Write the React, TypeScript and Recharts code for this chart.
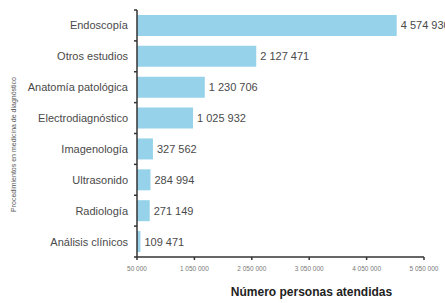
import { Bar, BarChart, LabelList, XAxis, YAxis } from 'recharts';

const categories = [
  'Endoscopía',
  'Otros estudios',
  'Anatomía patológica',
  'Electrodiagnóstico',
  'Imagenología',
  'Ultrasonido',
  'Radiología',
  'Análisis clínicos',
];
const personas = [4574930, 2127471, 1230706, 1025932, 327562, 284994, 271149, 109471];
const xTicks = [50000, 1050000, 2050000, 3050000, 4050000, 5050000];

const data = categories.map((name, i) => ({ name, value: personas[i] }));

const fmt = (n: number) => String(n).replace(/\B(?=(\d{3})+(?!\d))/g, ' ');

const FONT = '"Liberation Sans", Arial, sans-serif';
const W = 445;
const H = 303;
const MARGIN = { top: 10, right: 21, bottom: 16, left: 0 };
const AXIS_X = 137;
const X_AXIS_H = 30;
// half of one category band, for the boundary tick marks
const HALF_BAND = (H - MARGIN.top - MARGIN.bottom - X_AXIS_H) / categories.length / 2;

function CategoryTick(props: any) {
  const { y, payload, index } = props;
  const last = index === categories.length - 1;
  return (
    <g>
      <text x={AXIS_X - 9} y={y} dy={4} textAnchor="end" fontSize={11} fill="#4a4a4a" fontFamily={FONT}>
        {payload.value}
      </text>
      <line x1={AXIS_X - 3} x2={AXIS_X} y1={y - HALF_BAND} y2={y - HALF_BAND} stroke="#333" strokeWidth={1.5} />
      {last && (
        <line x1={AXIS_X - 3} x2={AXIS_X} y1={y + HALF_BAND} y2={y + HALF_BAND} stroke="#333" strokeWidth={1.5} />
      )}
    </g>
  );
}

function ValueLabel(props: any) {
  const { x, y, width, height, value } = props;
  return (
    <text x={x + width + 4} y={y + height / 2} dy={4} fontSize={11} fill="#4a4a4a" fontFamily={FONT}>
      {fmt(Number(value))}
    </text>
  );
}

function XTick(props: any) {
  const { x, y, payload } = props;
  return (
    <text x={x} y={y + 9} textAnchor="middle" fontSize={6.5} fill="#777" fontFamily={FONT}>
      {fmt(payload.value)}
    </text>
  );
}

export default function App() {
  return (
    <div style={{ position: 'absolute', left: 0, top: 0, background: '#fff' }}>
      <BarChart width={W} height={H} data={data} layout="vertical" margin={MARGIN} barCategoryGap="16%">
        <XAxis
          type="number"
          domain={[50000, 5050000]}
          ticks={xTicks}
          interval={0}
          allowDataOverflow
          height={X_AXIS_H}
          tick={<XTick />}
          tickSize={3}
          tickLine={{ stroke: '#333', strokeWidth: 1.5 }}
          axisLine={{ stroke: '#333', strokeWidth: 1.5 }}
          label={({ viewBox }: any) => (
            <text
              x={viewBox.x + viewBox.width / 2 + 31}
              y={296}
              textAnchor="middle"
              fontSize={12}
              fontWeight="bold"
              fill="#222"
              fontFamily={FONT}
            >
              Número personas atendidas
            </text>
          )}
        />
        <YAxis
          type="category"
          dataKey="name"
          width={AXIS_X}
          tickLine={false}
          tick={<CategoryTick />}
          axisLine={{ stroke: '#333', strokeWidth: 1.5 }}
          interval={0}
          label={({ viewBox }: any) => (
            <text
              x={16}
              y={viewBox.y + viewBox.height / 2 + 11}
              transform={`rotate(-90 16 ${viewBox.y + viewBox.height / 2 + 11})`}
              textAnchor="middle"
              fontSize={7}
              fill="#555"
              fontFamily={FONT}
            >
              Procedimientos en medicina de diagnóstico
            </text>
          )}
        />
        <Bar dataKey="value" fill="#96d2ea" isAnimationActive={false}>
          <LabelList dataKey="value" content={<ValueLabel />} />
        </Bar>
      </BarChart>
    </div>
  );
}
